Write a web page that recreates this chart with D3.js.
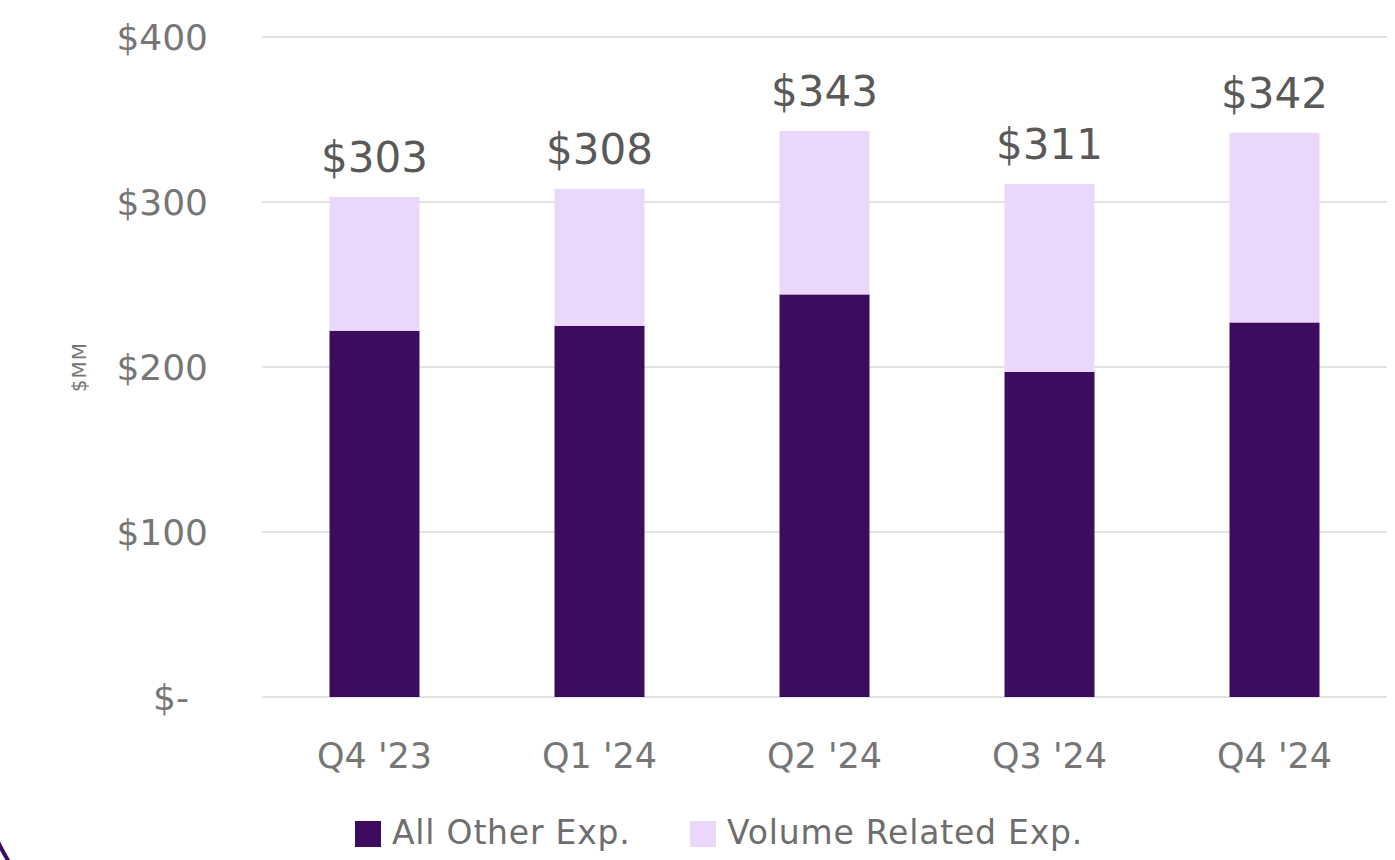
<!DOCTYPE html>
<html>
<head>
<meta charset="utf-8">
<script src="https://cdn.jsdelivr.net/npm/d3@7"></script>
<style>
  body { margin: 0; background: #fff; }
  svg { display: block; font-family: "DejaVu Sans", "Open Sans", sans-serif; }
</style>
</head>
<body>
<svg id="chart" width="1395" height="860"></svg>
<script>
// data
const quarters = ["Q4 '23", "Q1 '24", "Q2 '24", "Q3 '24", "Q4 '24"];
const allOther = [222, 225, 244, 197, 227];
const volumeRelated = [81, 83, 99, 114, 115];
const totals = [303, 308, 343, 311, 342];
const yTicks = [0, 100, 200, 300, 400];
const seriesNames = ["All Other Exp.", "Volume Related Exp."];
const colors = ["#3d0c5e", "#ebd7fa"];

const svg = d3.select("#chart");

const margin = { top: 37, left: 262, right: 8, bottom: 163 };
const width = 1395, height = 860;

const x = d3.scaleBand()
  .domain(quarters)
  .range([margin.left, width - margin.right])
  .paddingInner(0.6)
  .paddingOuter(0.3);

const y = d3.scaleLinear()
  .domain([0, 400])
  .range([697, margin.top]);

// gridlines
svg.append("g")
  .selectAll("line")
  .data(yTicks)
  .join("line")
  .attr("x1", margin.left)
  .attr("x2", width - margin.right)
  .attr("y1", d => y(d))
  .attr("y2", d => y(d))
  .attr("stroke", "#d9d9d9")
  .attr("stroke-width", 1.5);

// y axis labels ("$-" sits a bit left, accounting style)
svg.append("g")
  .selectAll("text")
  .data(yTicks)
  .join("text")
  .attr("x", d => d === 0 ? 189 : 208)
  .attr("y", d => y(d))
  .attr("dy", "0.36em")
  .attr("text-anchor", "end")
  .attr("fill", "#767676")
  .attr("font-size", 36)
  .text(d => d === 0 ? "$-" : "$" + d);

// y axis title
svg.append("text")
  .attr("transform", `translate(86, ${y(200)}) rotate(-90)`)
  .attr("text-anchor", "middle")
  .attr("fill", "#767676")
  .attr("font-size", 20)
  .attr("letter-spacing", 1)
  .text("$MM");

// stacked bars
const rows = quarters.map((q, i) => ({ q, a: allOther[i], v: volumeRelated[i] }));
const stacked = d3.stack().keys(["a", "v"])(rows);

svg.append("g")
  .selectAll("g")
  .data(stacked)
  .join("g")
  .attr("fill", (d, i) => colors[i])
  .selectAll("rect")
  .data(d => d)
  .join("rect")
  .attr("x", d => x(d.data.q))
  .attr("width", x.bandwidth())
  .attr("y", d => y(d[1]))
  .attr("height", d => y(d[0]) - y(d[1]));

// total labels
svg.append("g")
  .selectAll("text")
  .data(totals)
  .join("text")
  .attr("x", (d, i) => x(quarters[i]) + x.bandwidth() / 2)
  .attr("y", d => y(d) - 25)
  .attr("text-anchor", "middle")
  .attr("fill", "#595959")
  .attr("font-size", 42)
  .text(d => "$" + d);

// x labels
svg.append("g")
  .selectAll("text")
  .data(quarters)
  .join("text")
  .attr("x", d => x(d) + x.bandwidth() / 2)
  .attr("y", 768)
  .attr("text-anchor", "middle")
  .attr("fill", "#767676")
  .attr("font-size", 35)
  .text(d => d);

// legend
const legendX = [355, 690];
const legend = svg.append("g")
  .selectAll("g")
  .data(seriesNames)
  .join("g")
  .attr("transform", (d, i) => `translate(${legendX[i]}, 821)`);
legend.append("rect")
  .attr("width", 26)
  .attr("height", 26)
  .attr("fill", (d, i) => colors[i]);
legend.append("text")
  .attr("x", 37)
  .attr("y", 23)
  .attr("fill", "#6e6e6e")
  .attr("font-size", 33)
  .attr("letter-spacing", 0.8)
  .text(d => d);

// corner of the frame
svg.append("path")
  .attr("d", "M -2,842 Q 4,854 9,862")
  .attr("fill", "none")
  .attr("stroke", "#3d0c5e")
  .attr("stroke-width", 4);
</script>
</body>
</html>
